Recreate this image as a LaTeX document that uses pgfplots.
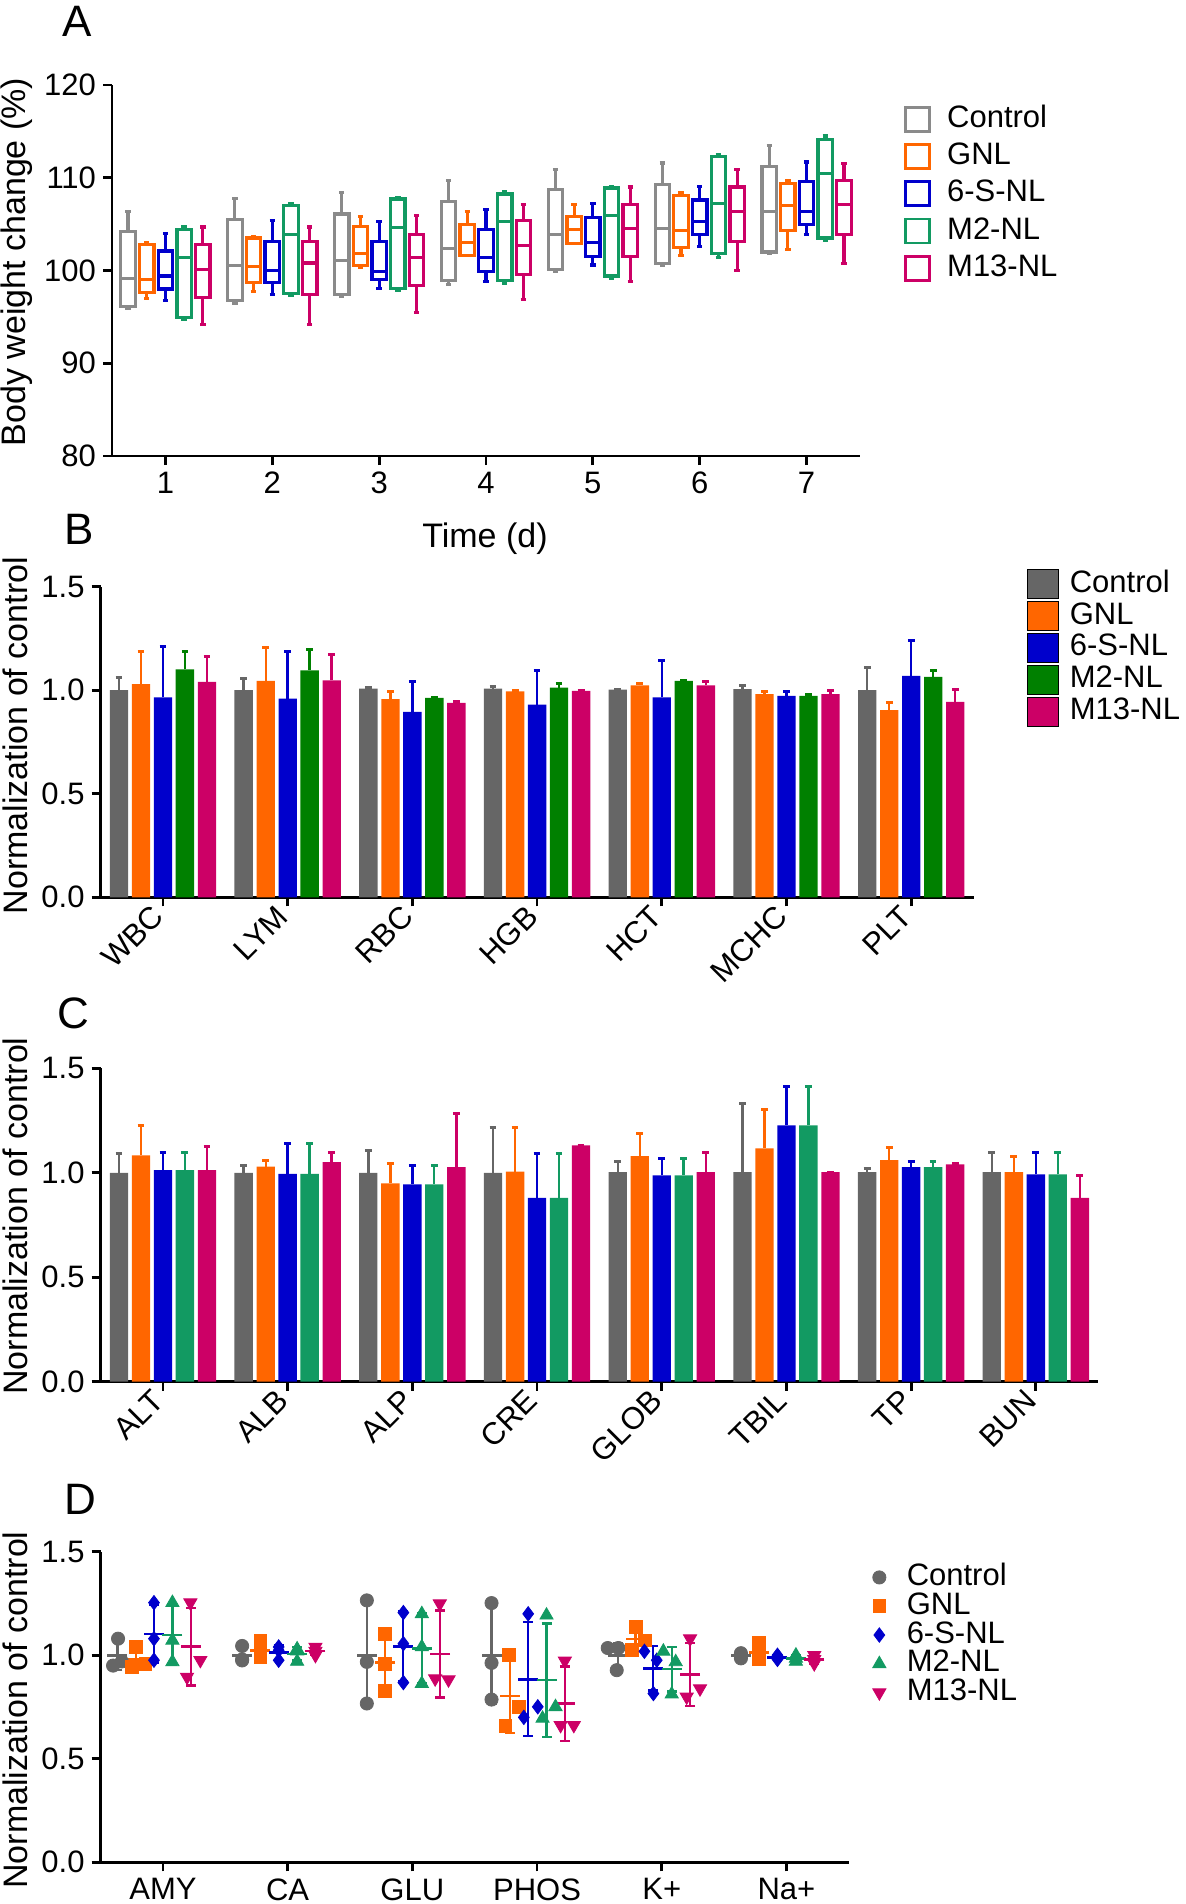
\documentclass[border=0pt]{standalone}
\usepackage{fontspec}
\setmainfont{Liberation Sans}
\usepackage{pgfplots}
\pgfplotsset{compat=1.18}
\usepackage{pgfplotstable}
\usepgfplotslibrary{statistics}

\definecolor{cGrayA}{HTML}{8A8A8A}
\definecolor{cGray}{HTML}{666666}
\definecolor{cOrange}{HTML}{FF6600}
\definecolor{cBlue}{HTML}{0000CC}
\definecolor{cGreenB}{HTML}{008000}
\definecolor{cGreen}{HTML}{129A62}
\definecolor{cMag}{HTML}{CC0066}

\newcommand\fs{\fontsize{15.5bp}{18bp}\selectfont}
\newcommand\fl{\fontsize{17bp}{20bp}\selectfont}
\newcommand\fp{\fontsize{22bp}{26bp}\selectfont}

\pgfplotsset{
  myax/.style={scale only axis, axis x line*=bottom, axis y line*=left,
    axis line style={line width=1.4bp, black}, tick align=outside,
    major tick length=4.5bp, tick style={line width=1.4bp, black},
    tick label style={font=\fs}, /pgf/number format/assume math mode=true,
    clip=false},
  normy/.style={ymin=0, ymax=1.5, ytick={0,0.5,1,1.5},
    yticklabel style={/pgf/number format/fixed, /pgf/number format/fixed zerofill, /pgf/number format/precision=1}},
  sqA/.style={legend image code/.code={\draw[##1, fill=white, line width=1.4bp] (0bp,-6bp) rectangle (12bp,6bp);}},
  sqB/.style={legend image code/.code={\fill[##1] (0bp,-7.25bp) rectangle (15.5bp,7.25bp);}},
  mkD/.style={legend image code/.code={\draw[##1] plot coordinates {(0bp,0bp)};}},
  legsty/.style={draw=none, fill=none, inner sep=0pt, font=\fs, row sep=#1,
    nodes={inner ysep=0pt, text height=11bp, text depth=3bp}},
}

% box: color, position, lower whisker, lower quartile, median, upper quartile, upper whisker
\newcommand\bx[7]{\addplot[boxplot prepared={draw direction=y, draw position=#2, lower whisker=#3, lower quartile=#4, median=#5, upper quartile=#6, upper whisker=#7, box extend=0.135, whisker extend=0.05}, draw=#1, fill=white, line width=1.6bp, forget plot] coordinates {};}

% bars: table, color, shift, ycol, ecol
\newcommand\bars[5]{\addplot[ybar, bar width=0.147, bar shift=0, fill=#2, draw=none, forget plot,
  error bars/.cd, y dir=plus, y explicit,
  error bar style={draw=#2, line width=1.2bp},
  error mark options={draw=#2, line width=1.5bp, mark size=1.7bp, rotate=90}]
  table[x expr=\thisrow{x}+#3, y=#4, y error=#5] {#1};}

% mean +- SD : color, coordinates
\newcommand\dmean[2]{\addplot[only marks, mark=-, mark size=5bp, mark options={line width=1.3bp}, color=#1, forget plot,
  error bars/.cd, y dir=both, y explicit, error bar style={line width=1.1bp, color=#1},
  error mark options={line width=1.1bp, mark size=2.5bp, color=#1, rotate=90}] coordinates {#2};}

\pgfplotstableread{
x c ce g ge b be gr gre m me
0 1.000 0.060 1.029 0.159 0.965 0.244 1.101 0.084 1.040 0.121
1 1.000 0.056 1.045 0.161 0.960 0.225 1.096 0.102 1.048 0.124
2 1.008 0.004 0.957 0.035 0.895 0.145 0.963 0.000 0.939 0.008
3 1.008 0.012 0.994 0.004 0.931 0.165 1.013 0.019 0.997 0.003
4 1.003 0.000 1.024 0.008 0.965 0.180 1.045 0.003 1.023 0.017
5 1.005 0.016 0.981 0.011 0.973 0.019 0.973 0.008 0.981 0.019
6 1.000 0.108 0.904 0.035 1.069 0.172 1.064 0.032 0.944 0.059
}\tblB

\pgfplotstableread{
x c ce g ge b be gr gre m me
0 1.000 0.091 1.083 0.141 1.013 0.086 1.013 0.086 1.013 0.112
1 1.000 0.035 1.029 0.030 0.995 0.144 0.995 0.144 1.051 0.045
2 1.000 0.109 0.949 0.096 0.944 0.093 0.944 0.093 1.027 0.256
3 1.000 0.216 1.005 0.211 0.880 0.211 0.880 0.211 1.131 0.000
4 1.003 0.053 1.080 0.109 0.987 0.080 0.987 0.080 1.003 0.093
5 1.003 0.330 1.117 0.187 1.227 0.186 1.227 0.186 1.003 0.000
6 1.003 0.016 1.061 0.059 1.027 0.029 1.027 0.029 1.040 0.005
7 1.003 0.093 1.003 0.077 0.992 0.107 0.992 0.107 0.880 0.107
}\tblC

\begin{document}
\begin{tikzpicture}
\useasboundingbox (0,0) rectangle (593bp,-952bp);

% ---------------- Panel A ----------------
\begin{axis}[myax, at={(56bp,-228bp)}, anchor=south west, width=374bp, height=185.5bp,
  xmin=0.5, xmax=7.5, ymin=80, ymax=120, xtick={1,...,7}, ytick={80,90,...,120},
  legend cell align=left,
  legend style={legsty=4.6bp, at={(1.0588,0.946)}, anchor=north west, nodes={inner xsep=8bp}}]
% day 1
\bx{cGrayA}{0.65}{95.9}{96.1}{99.14}{104.2}{106.36}
\bx{cOrange}{0.825}{97.0}{97.6}{99.0}{102.8}{103.0}
\bx{cBlue}{1.0}{96.8}{98.0}{99.4}{102.1}{104.0}
\bx{cGreen}{1.175}{94.75}{94.9}{101.4}{104.4}{104.7}
\bx{cMag}{1.35}{94.2}{97.1}{100.1}{102.8}{104.7}
% day 2
\bx{cGrayA}{1.65}{96.5}{96.8}{100.5}{105.5}{107.8}
\bx{cOrange}{1.825}{97.7}{98.7}{100.4}{103.5}{103.7}
\bx{cBlue}{2.0}{97.4}{98.7}{100.0}{103.1}{105.4}
\bx{cGreen}{2.175}{97.3}{97.5}{103.9}{107.0}{107.25}
\bx{cMag}{2.35}{94.2}{97.4}{100.8}{103.1}{104.7}
% day 3
\bx{cGrayA}{2.65}{97.2}{97.4}{101.1}{106.1}{108.4}
\bx{cOrange}{2.825}{100.3}{100.5}{101.8}{104.75}{105.8}
\bx{cBlue}{3.0}{98.1}{99.0}{99.9}{103.1}{105.3}
\bx{cGreen}{3.175}{97.9}{98.1}{104.6}{107.7}{107.9}
\bx{cMag}{3.35}{95.5}{98.4}{101.4}{103.9}{105.9}
% day 4
\bx{cGrayA}{3.65}{98.5}{98.9}{102.4}{107.4}{109.7}
\bx{cOrange}{3.825}{101.6}{101.6}{103.0}{105.0}{106.4}
\bx{cBlue}{4.0}{98.8}{99.9}{101.4}{104.4}{106.6}
\bx{cGreen}{4.175}{98.6}{98.9}{105.3}{108.25}{108.5}
\bx{cMag}{4.35}{96.9}{99.6}{102.7}{105.4}{107.1}
% day 5
\bx{cGrayA}{4.65}{99.9}{100.1}{103.9}{108.75}{110.9}
\bx{cOrange}{4.825}{102.9}{102.9}{104.4}{105.8}{107.1}
\bx{cBlue}{5.0}{100.6}{101.5}{103.0}{105.7}{107.25}
\bx{cGreen}{5.175}{99.2}{99.4}{105.9}{108.9}{109.1}
\bx{cMag}{5.35}{98.8}{101.5}{104.5}{107.1}{109.0}
% day 6
\bx{cGrayA}{5.65}{100.5}{100.75}{104.5}{109.3}{111.6}
\bx{cOrange}{5.825}{101.6}{102.5}{104.3}{108.1}{108.4}
\bx{cBlue}{6.0}{102.6}{103.9}{105.3}{107.6}{109.1}
\bx{cGreen}{6.175}{101.4}{101.8}{107.25}{112.25}{112.5}
\bx{cMag}{6.35}{100.0}{103.1}{106.4}{109.0}{110.9}
% day 7
\bx{cGrayA}{6.65}{101.8}{102.0}{106.4}{111.25}{113.5}
\bx{cOrange}{6.825}{102.25}{104.3}{107.0}{109.4}{109.7}
\bx{cBlue}{7.0}{103.9}{105.0}{106.4}{109.6}{111.7}
\bx{cGreen}{7.175}{103.25}{103.5}{110.5}{114.1}{114.5}
\bx{cMag}{7.35}{100.75}{103.9}{107.1}{109.7}{111.5}
\addlegendimage{sqA, draw=cGrayA}\addlegendentry{Control}
\addlegendimage{sqA, draw=cOrange}\addlegendentry{GNL}
\addlegendimage{sqA, draw=cBlue}\addlegendentry{6-S-NL}
\addlegendimage{sqA, draw=cGreen}\addlegendentry{M2-NL}
\addlegendimage{sqA, draw=cMag}\addlegendentry{M13-NL}
\end{axis}

% ---------------- Panel B ----------------
\begin{axis}[myax, normy, at={(50.3bp,-448.65bp)}, anchor=south west, width=436.5bp, height=155.3bp,
  xmin=-0.5, xmax=6.5, xtick={0,...,6}, xticklabels={WBC,LYM,RBC,HGB,HCT,MCHC,PLT},
  xticklabel style={rotate=45, anchor=east},
  legend cell align=left,
  legend style={legsty=1bp, at={(1.0612,1.057)}, anchor=north west, nodes={inner xsep=5.3bp}}]
\bars{\tblB}{cGray}{-0.353}{c}{ce}
\bars{\tblB}{cOrange}{-0.176}{g}{ge}
\bars{\tblB}{cBlue}{0}{b}{be}
\bars{\tblB}{cGreenB}{0.176}{gr}{gre}
\bars{\tblB}{cMag}{0.353}{m}{me}
\addlegendimage{sqB, fill=cGray}\addlegendentry{Control}
\addlegendimage{sqB, fill=cOrange}\addlegendentry{GNL}
\addlegendimage{sqB, fill=cBlue}\addlegendentry{6-S-NL}
\addlegendimage{sqB, fill=cGreenB}\addlegendentry{M2-NL}
\addlegendimage{sqB, fill=cMag}\addlegendentry{M13-NL}
\end{axis}

% ---------------- Panel C ----------------
\begin{axis}[myax, normy, at={(50.3bp,-690.85bp)}, anchor=south west, width=498.8bp, height=156.7bp,
  xmin=-0.5, xmax=7.5, xtick={0,...,7}, xticklabels={ALT,ALB,ALP,CRE,GLOB,TBIL,TP,BUN},
  xticklabel style={rotate=45, anchor=east}]
\bars{\tblC}{cGray}{-0.353}{c}{ce}
\bars{\tblC}{cOrange}{-0.176}{g}{ge}
\bars{\tblC}{cBlue}{0}{b}{be}
\bars{\tblC}{cGreen}{0.176}{gr}{gre}
\bars{\tblC}{cMag}{0.353}{m}{me}
\end{axis}

% ---------------- Panel D ----------------
\begin{axis}[myax, normy, at={(50.3bp,-931.15bp)}, anchor=south west, width=374.1bp, height=155.3bp,
  xmin=-0.5, xmax=5.5, xtick={0,...,5}, xticklabels={AMY,CA,GLU,PHOS,K+,Na+},
  legend cell align=left,
  legend style={legsty=0.4bp, at={(1.0315,0.9636)}, anchor=north west, nodes={inner xsep=10.4bp}}]
\dmean{cGray}{(-0.365,1.0)+-(0,0.07) (0.635,1.0)+-(0,0.039) (1.635,1.0)+-(0,0.25) (2.635,1.0)+-(0,0.235) (3.65,0.998)+-(0,0.059) (4.635,0.998)+-(0,0.013)}
\dmean{cOrange}{(-0.218,0.98)+-(0,0.053) (0.782,1.023)+-(0,0.042) (1.782,0.964)+-(0,0.138) (2.782,0.803)+-(0,0.177) (3.79,1.078)+-(0,0.057) (4.782,1.013)+-(0,0.042)}
\dmean{cBlue}{(-0.072,1.103)+-(0,0.14) (0.928,1.013)+-(0,0.034) (1.928,1.043)+-(0,0.169) (2.928,0.884)+-(0,0.275) (3.933,0.937)+-(0,0.107) (4.928,0.99)+-(0,0.01)}
\dmean{cGreen}{(0.076,1.098)+-(0,0.145) (1.076,1.007)+-(0,0.032) (2.076,1.034)+-(0,0.169) (3.076,0.88)+-(0,0.273) (4.08,0.933)+-(0,0.108) (5.076,0.985)+-(0,0.015)}
\dmean{cMag}{(0.223,1.042)+-(0,0.188) (1.223,1.02)+-(0,0.02) (2.223,1.006)+-(0,0.21) (3.223,0.766)+-(0,0.18) (4.227,0.906)+-(0,0.152) (5.223,0.98)+-(0,0.02)}
\addplot[only marks, mark=*, mark size=3.3bp, color=cGray] coordinates {
 (-0.36,1.08) (-0.40,0.95) (-0.33,0.97)
 (0.635,1.045) (0.635,0.975) (0.635,0.98)
 (1.635,1.265) (1.635,0.968) (1.635,0.767)
 (2.635,1.252) (2.635,0.963) (2.635,0.786)
 (3.567,1.035) (3.652,1.035) (3.639,0.928)
 (4.635,1.01) (4.635,0.985) (4.635,1.0)};
\addplot[only marks, mark=square*, mark size=3.2bp, color=cOrange] coordinates {
 (-0.22,1.04) (-0.25,0.944) (-0.14,0.96)
 (0.782,1.07) (0.782,0.99) (0.782,1.01)
 (1.782,1.104) (1.782,0.96) (1.782,0.828)
 (2.774,1.0) (2.854,0.751) (2.747,0.658)
 (3.791,1.137) (3.866,1.072) (3.759,1.024)
 (4.782,1.06) (4.782,0.98) (4.782,1.0)};
\addplot[only marks, mark=diamond*, mark size=3.6bp, color=cBlue] coordinates {
 (-0.072,1.254) (-0.072,1.08) (-0.072,0.976)
 (0.928,1.04) (0.928,0.976) (0.928,1.024)
 (1.928,1.206) (1.928,1.056) (1.928,0.868)
 (2.929,1.2) (3.006,0.751) (2.894,0.70)
 (3.861,1.019) (3.96,0.976) (3.933,0.815)
 (4.928,1.0) (4.928,0.98) (4.928,0.99)};
\addplot[only marks, mark=triangle*, mark size=3.8bp, color=cGreen] coordinates {
 (0.076,1.254) (0.076,1.072) (0.076,0.968)
 (1.076,1.03) (1.076,0.97) (1.076,1.02)
 (2.076,1.2) (2.076,1.04) (2.076,0.863)
 (3.076,1.193) (3.148,0.751) (3.044,0.695)
 (4.013,1.019) (4.112,0.968) (4.08,0.812)
 (5.076,1.0) (5.076,0.97) (5.076,0.985)};
\addplot[only marks, mark=triangle*, mark size=3.8bp, mark options={rotate=180}, color=cMag] coordinates {
 (0.22,1.254) (0.193,0.895) (0.30,0.976)
 (1.223,1.04) (1.223,1.0) (1.223,1.02)
 (2.22,1.249) (2.183,0.887) (2.29,0.882)
 (3.223,0.973) (3.189,0.662) (3.295,0.662)
 (4.227,1.08) (4.2,0.799) (4.307,0.839)
 (5.223,1.0) (5.223,0.96) (5.223,0.98)};
\addlegendimage{mkD, only marks, mark=*, mark size=3.3bp, color=cGray}\addlegendentry{Control}
\addlegendimage{mkD, only marks, mark=square*, mark size=3.2bp, color=cOrange}\addlegendentry{GNL}
\addlegendimage{mkD, only marks, mark=diamond*, mark size=3.6bp, color=cBlue}\addlegendentry{6-S-NL}
\addlegendimage{mkD, only marks, mark=triangle*, mark size=3.8bp, color=cGreen}\addlegendentry{M2-NL}
\addlegendimage{mkD, only marks, mark=triangle*, mark size=3.8bp, mark options={rotate=180}, color=cMag}\addlegendentry{M13-NL}
\end{axis}

% ---------------- outer texts ----------------
\node[font=\fp] at (38.5bp,-10.5bp) {A};
\node[font=\fp] at (39.5bp,-264.5bp) {B};
\node[font=\fp] at (36.5bp,-506.8bp) {C};
\node[font=\fp] at (40bp,-749.5bp) {D};
\node[font=\fl] at (242.5bp,-269.5bp) {Time (d)};
\node[font=\fl, rotate=90] at (8.5bp,-131bp) {Body weight change (\%)};
\node[font=\fl, rotate=90] at (7.5bp,-367.8bp) {Normalization of control};
\node[font=\fl, rotate=90] at (7.5bp,-608bp) {Normalization of control};
\node[font=\fl, rotate=90] at (7.5bp,-855bp) {Normalization of control};
\end{tikzpicture}
\end{document}
